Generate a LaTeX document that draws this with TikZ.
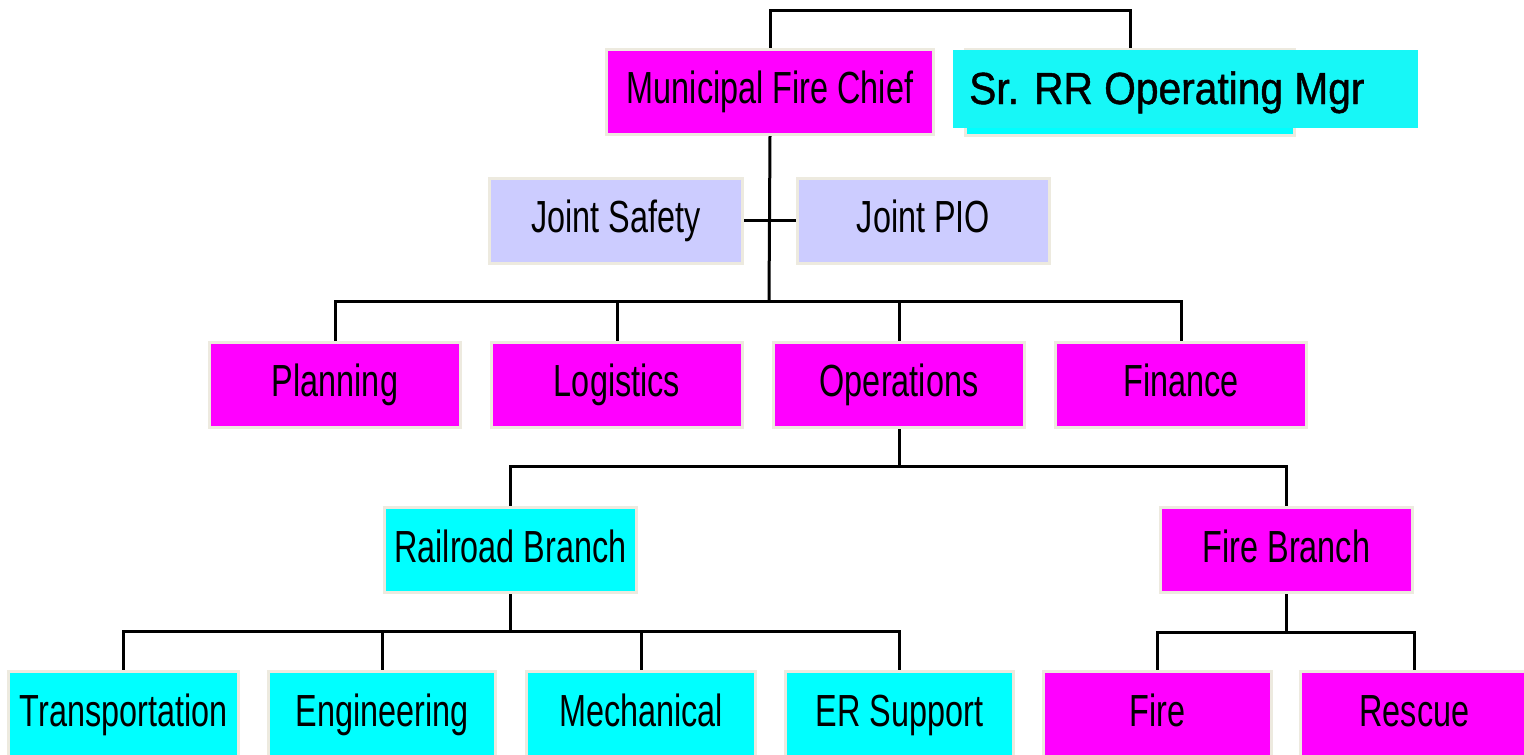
\documentclass[tikz,border=0pt]{standalone}
\usepackage{fontspec}
\setmainfont[FakeStretch=0.72]{Liberation Sans}
\newfontfamily\srfont[FakeStretch=0.905,FakeBold=1]{Liberation Sans}
\usetikzlibrary{backgrounds}
\definecolor{mag}{HTML}{FF00FF}
\definecolor{cya}{HTML}{00FFFF}
\definecolor{cyb}{HTML}{17F7F7}
\definecolor{lav}{HTML}{CCCCFF}
\definecolor{bord}{HTML}{EDEADF}
\tikzset{
  box/.style={draw=bord, line width=3pt, inner sep=0pt, minimum width=#1, minimum height=85pt,
    font=\fontsize{45}{54}\selectfont, text height=32pt, text depth=8pt},
  box/.default=252pt,
  magbox/.style={box=#1, fill=mag},
  magbox/.default=252pt,
  cyabox/.style={box=#1, fill=cya},
  cyabox/.default=252pt,
  lavbox/.style={box=#1, fill=lav},
  lavbox/.default=252pt,
  link/.style={line width=3pt, draw=black},
}
\begin{document}
\begin{tikzpicture}[x=1pt, y=-1pt]
\useasboundingbox (0,0) rectangle (1524,755);
\clip (0,0) rectangle (1524,755);
% top row
\node[magbox=327pt] (chief) at (770,91.5) {Municipal Fire Chief};
\node[cyabox=329pt, minimum height=86pt] (srA) at (1130,92.5) {};
\node[fill=cyb, minimum width=465pt, minimum height=78pt, inner sep=0pt] (srB) at (1185.5,89) {};
\node[anchor=west, inner sep=0pt, font=\srfont\fontsize{45}{54}\selectfont, text height=32pt, text depth=8pt] (srT) at (969,92) {Sr. RR Operating Mgr};
% joint staff
\node[lavbox=253pt] (safety) at (616,220.5) {Joint Safety};
\node[lavbox=252pt] (pio) at (923.5,220.5) {Joint PIO};
% sections
\node[magbox=251pt] (planning) at (335,384.5) {Planning};
\node[magbox=251pt] (logistics) at (617,384.5) {Logistics};
\node[magbox=251pt] (operations) at (899,384.5) {Operations};
\node[magbox=251pt] (finance) at (1181,384.5) {Finance};
% branches
\node[cyabox=252pt] (railroad) at (510.5,550) {Railroad Branch};
\node[magbox=252pt] (firebranch) at (1286.5,550) {Fire Branch};
% bottom
\node[cyabox=230pt] (transport) at (123.5,714) {Transportation};
\node[cyabox=227pt] (engineering) at (382,714) {Engineering};
\node[cyabox=229pt] (mechanical) at (641,714) {Mechanical};
\node[cyabox=228pt] (ersupport) at (899.5,714) {ER Support};
\node[magbox=228pt] (fire) at (1157.5,714) {Fire};
\node[magbox=228pt] (rescue) at (1414.5,714) {Rescue};
% connectors
\coordinate (t1) at (769,10);
\coordinate (b1) at (769,301);
\coordinate (b2) at (899,466);
\coordinate (b3) at (511,631);
\coordinate (b4) at (1286,632);
\begin{scope}[on background layer]
\draw[link] (chief.north) -- (chief.north |- t1) -| (srA.north);
\draw[link] (chief.south) -- (b1);
\draw[link] (safety.east) -- (pio.west);
\draw[link] (planning.north) |- (b1) -| (finance.north);
\draw[link] (logistics.north) -- (logistics.north |- b1);
\draw[link] (operations.north) -- (operations.north |- b1);
\draw[link] (operations.south) -- (b2);
\draw[link] (railroad.north) |- (b2) -| (firebranch.north);
\draw[link] (railroad.south) -- (railroad.south |- b3);
\draw[link] (transport.north) |- (b3) -| (ersupport.north);
\draw[link] (engineering.north) -- (engineering.north |- b3);
\draw[link] (mechanical.north) -- (mechanical.north |- b3);
\draw[link] (firebranch.south) -- (firebranch.south |- b4);
\draw[link] (fire.north) |- (b4) -| (rescue.north);
\end{scope}
\end{tikzpicture}
\end{document}
